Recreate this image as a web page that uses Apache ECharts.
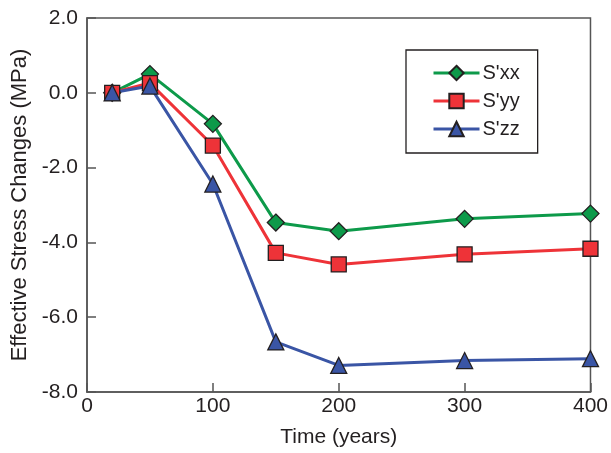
<!DOCTYPE html>
<html><head><meta charset="utf-8">
<script src="https://cdn.jsdelivr.net/npm/echarts@6/dist/echarts.min.js"></script>
<style>html,body{margin:0;padding:0;background:#fff}#c{width:611px;height:453px}</style>
</head><body><div id="c"></div>
<script>
const times = [20, 50, 100, 150, 200, 300, 400];
const sxx = [0.0, 0.50, -0.83, -3.47, -3.70, -3.37, -3.23];
const syy = [0.0, 0.26, -1.41, -4.28, -4.59, -4.32, -4.17];
const szz = [0.0, 0.18, -2.44, -6.66, -7.29, -7.16, -7.11];
const seriesNames = ["S'xx", "S'yy", "S'zz"];
const xTicks = [0, 100, 200, 300, 400];
const yTicks = [-8, -6, -4, -2, 0, 2];

const font = 'Liberation Sans, Arial, Helvetica, sans-serif';
const axisCol = '#555555';
const outline = '#231f20';
function pairs(v){ return times.map((t,i)=>[t, v[i]]); }
function mk(name, data, color, symbol, size){
  return {name, type:'line', data:pairs(data), symbol, symbolSize:size,
    lineStyle:{color, width:3}, itemStyle:{color, borderColor:outline, borderWidth:1.3},
    emphasis:{disabled:true}, z:3};
}
const chart = echarts.init(document.getElementById('c'), null, {renderer:'canvas'});
chart.setOption({
  animation:false,
  backgroundColor:'#fff',
  grid:{left:87, right:17, top:18, bottom:60, show:true, borderColor:axisCol, borderWidth:1.5},
  xAxis:{type:'value', min:0, max:400, interval:100,
    name:'Time (years)', nameLocation:'middle', nameGap:35,
    nameTextStyle:{fontFamily:font, fontSize:21, color:'#231f20'},
    axisLine:{show:true, onZero:false, lineStyle:{color:axisCol, width:1.5}},
    axisTick:{show:true, inside:true, length:9, lineStyle:{color:axisCol, width:1.5}},
    axisLabel:{fontFamily:font, fontSize:21, color:'#231f20', margin:4,
      formatter:v=> xTicks.includes(v)? String(v):''},
    splitLine:{show:false}},
  yAxis:{type:'value', min:-8, max:2, interval:2,
    name:'Effective Stress Changes (MPa)', nameLocation:'middle', nameGap:56, nameRotate:90,
    nameTextStyle:{fontFamily:font, fontSize:22, color:'#231f20'},
    axisLine:{show:true, onZero:false, lineStyle:{color:axisCol, width:1.5}},
    axisTick:{show:true, inside:true, length:9, lineStyle:{color:axisCol, width:1.5}},
    axisLabel:{fontFamily:font, fontSize:21, color:'#231f20', margin:9,
      formatter:v=> yTicks.includes(v)? v.toFixed(1):''},
    splitLine:{show:false}},
  legend:{orient:'vertical', left:406, top:50, width:137,
    padding:[13, 18, 14, 26], itemGap:8, itemWidth:46, itemHeight:18,
    lineStyle:{width:3},
    borderColor:'#231f20', borderWidth:1.3, backgroundColor:'#fff',
    textStyle:{fontFamily:font, fontSize:20, color:'#231f20', padding:[0,0,0,-2]},
    data:seriesNames},
  series:[
    mk(seriesNames[0], sxx, '#0d9a4a', 'diamond', 17),
    mk(seriesNames[1], syy, '#ee3338', 'rect', 15),
    mk(seriesNames[2], szz, '#3a55a5', 'triangle', 16)
  ]
});
</script></body></html>
